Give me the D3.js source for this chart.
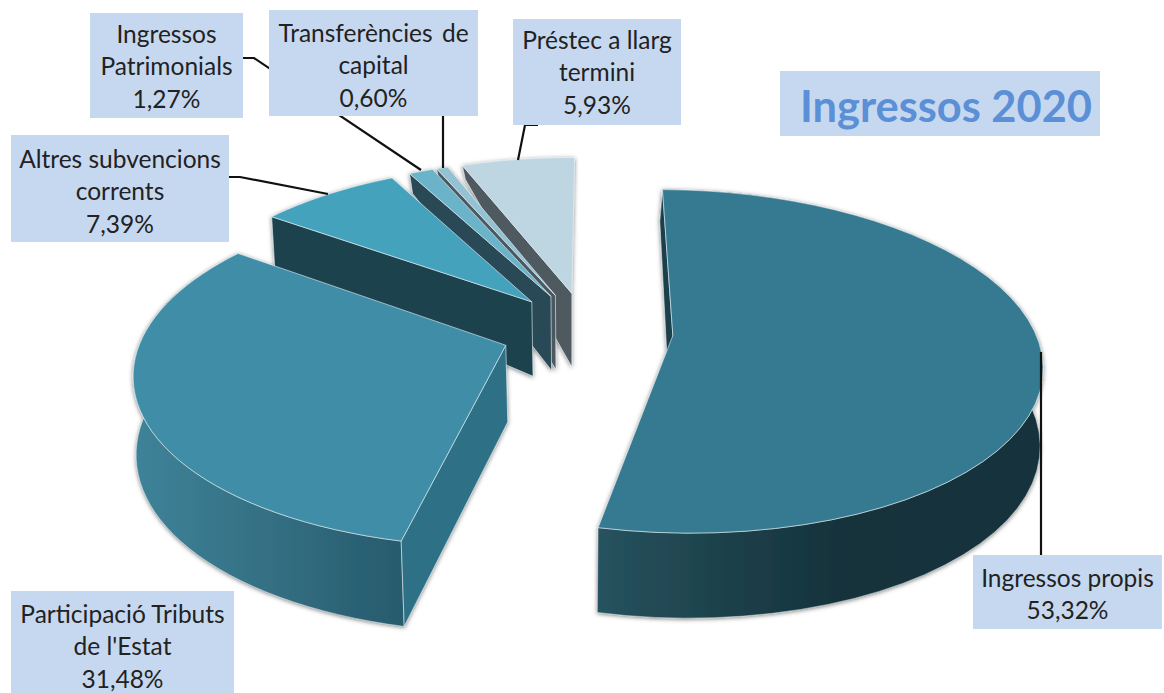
<!DOCTYPE html>
<html><head><meta charset="utf-8">
<script src="https://cdnjs.cloudflare.com/ajax/libs/d3/7.8.5/d3.min.js"></script>
<style>html,body{margin:0;background:#fff}svg{display:block}text{font-family:Lato,"Noto Sans",sans-serif}</style>
</head><body><svg id="c" width="1164" height="693"></svg>
<script>
const categories = ["Ingressos propis","Participació Tributs de l'Estat","Altres subvencions corrents","Ingressos Patrimonials","Transferències de capital","Préstec a llarg termini"];
const values = [53.32,31.48,7.39,1.27,0.60,5.93];
const valueLabels = ["53,32%","31,48%","7,39%","1,27%","0,60%","5,93%"];
const labelLines = [["Ingressos propis"],["Participació Tributs","de l'Estat"],["Altres subvencions","corrents"],["Ingressos","Patrimonials"],["Transferències de","capital"],["Préstec a llarg","termini"]];
const topColors = ["#357a91","#3f8da8","#45a2bd","#6bb3c8","#92c2d3","#bdd6e2"];
const cutColors = ["#1a3f4c","#2f7186","#1c424d","#2c4a56","#4b5960","#4f5a60"];
const title = "Ingressos 2020";

// layout
const labelBoxes = [[973,555,189,74,578],[11,591,223,102,614],[11,135,218,107,159],[90,13,153,105,34],[269,10,209,106,33],[513,19,168,106,40]];
const leaders = [
 [[1041,352],[1041,555]],
 [],
 [[229,177],[240,177],[328,194]],
 [[243,58],[254,58],[421,170]],
 [[443,116],[443,168]],
 [[538,125],[525,125],[518,160]]
];
const R=362,E=86,CX=15,X0=572,Y0=331,K=.46,P=.15,N=48,TURN=.009;
const depth=d3.scaleLinear().domain([-430,-280,-80,370]).range([12,50,74,85]);
const lean=d3.scaleLinear().domain([-100,100]).range([-3,3]).clamp(true);

function proj(X,Z){const s=1/(1-P*Z/R);return [X0+X*s,Y0+K*Z*s];}
function low(X,Z){const p=proj(X,Z);return [p[0]-lean(p[0]-X0),p[1]+depth(Z)];}

const svg=d3.select("#c");
const defs=svg.append("defs");
const f=defs.append("filter").attr("id","sh").attr("x","-5%").attr("y","-5%").attr("width","110%").attr("height","110%");
f.append("feDropShadow").attr("dx",0).attr("dy",1).attr("stdDeviation",2).attr("flood-color","#555").attr("flood-opacity",.75);
function grad(id,x1,x2,stops){const g=defs.append("linearGradient").attr("id",id).attr("gradientUnits","userSpaceOnUse").attr("x1",x1).attr("x2",x2).attr("y1",0).attr("y2",0);
 stops.forEach(s=>g.append("stop").attr("offset",s[0]).attr("stop-color",s[1]));}
grad("w0",600,1041,[[0,"#26525f"],[.3,"#1c4049"],[.55,"#15323b"],[1,"#15333c"]]);
grad("w1",133,406,[[0,"#3e8399"],[.5,"#346f83"],[1,"#275a6c"]]);
const wallFill=["url(#w0)","url(#w1)",cutColors[2],cutColors[3],cutColors[4],cutColors[5]];

const pie=d3.pie().sort(null).value(d=>d).startAngle(TURN).endAngle(2*Math.PI+TURN);
const arcs=pie(values);
const line=d3.line();
const edge="rgba(235,245,248,.75)";

// draw back to front
const order=[5,4,3,2,1,0];
const gs=svg.append("g").attr("filter","url(#sh)");
order.forEach(i=>{
 const d=arcs[i],mid=(d.startAngle+d.endAngle)/2;
 const ox=CX+E*Math.sin(mid),oz=-E*Math.cos(mid);
 const pt=a=>[ox+R*Math.sin(a),oz-R*Math.cos(a)];
 const angs=d3.range(N+1).map(j=>d.startAngle+(d.endAngle-d.startAngle)*j/N);
 const A=[ox,oz];
 const g=gs.append("g");
 const topArc=angs.map(a=>proj(...pt(a)));
 const lowArc=angs.map(a=>low(...pt(a))).reverse();
 if(i<2) g.append("path").attr("d",line(topArc.concat(lowArc))+"Z").attr("fill",wallFill[i]).attr("stroke",edge).attr("stroke-width",.6);
 const p=pt(d.startAngle);
 g.append("path").attr("d",line([proj(...p),proj(...A),low(...A),low(...p)])+"Z")
    .attr("fill",cutColors[i]).attr("stroke",edge).attr("stroke-width",.8);
 g.append("path").attr("d",line([proj(...A)].concat(topArc))+"Z").attr("fill",topColors[i]).attr("stroke",edge).attr("stroke-width",.8);
});

// leader lines
const gL=svg.append("g");
leaders.forEach(l=>{if(l.length)gL.append("path").attr("d",line(l)).attr("fill","none").attr("stroke","#111").attr("stroke-width",2.2);});

// labels
categories.forEach((c,i)=>{
 const b=labelBoxes[i];
 const g=svg.append("g");
 g.append("rect").attr("x",b[0]).attr("y",b[1]).attr("width",b[2]).attr("height",b[3]).attr("fill","#c6d8f0");
 labelLines[i].concat([valueLabels[i]]).forEach((t,j)=>{
  g.append("text").attr("x",b[0]+b[2]/2).attr("y",b[4]+j*32.7).attr("dy","0.35em").attr("text-anchor","middle")
   .attr("font-size",24.5).attr("fill","#222").attr("word-spacing",t.startsWith("Transf")?3:0).text(t);
 });
});
svg.append("rect").attr("x",780).attr("y",71).attr("width",320).attr("height",65).attr("fill","#c6d8f0");
svg.append("text").attr("x",946).attr("y",107).attr("dy","0.35em").attr("text-anchor","middle").attr("font-size",43.4).attr("font-weight",700).attr("fill","#5b8fd6").text(title);
</script></body></html>
